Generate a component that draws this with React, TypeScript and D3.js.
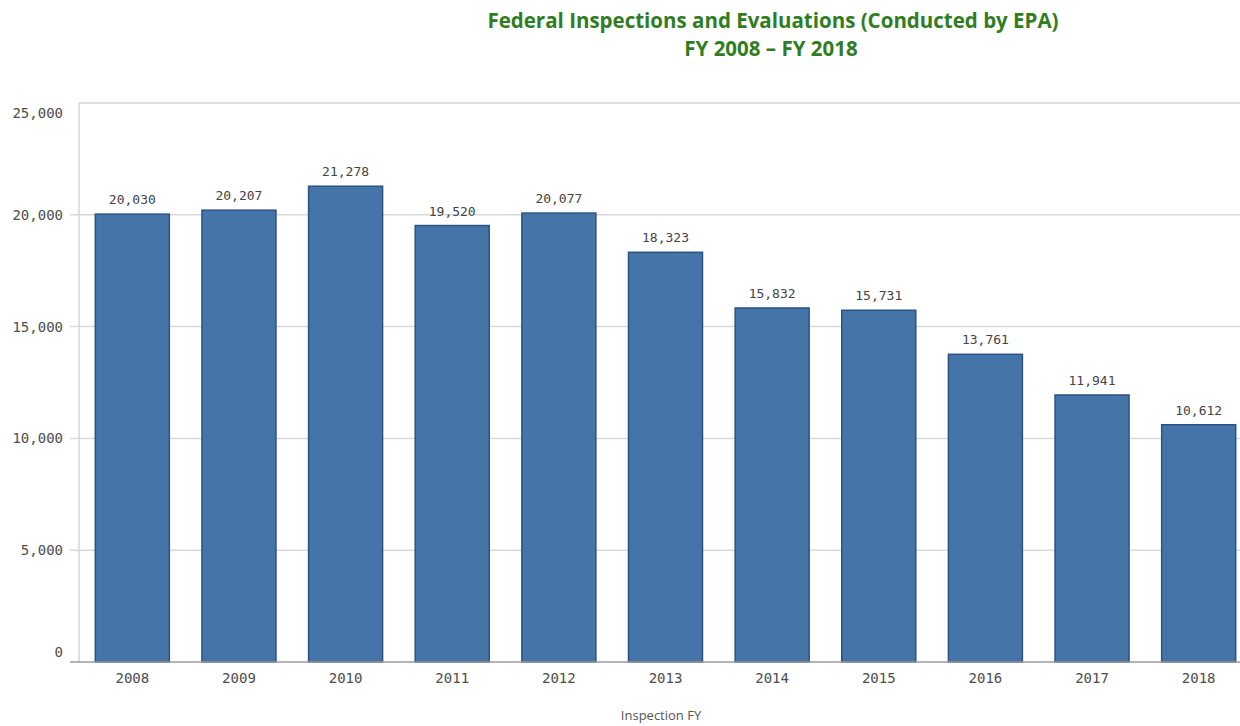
import React from "react";
import * as d3 from "d3";

const years = ["2008", "2009", "2010", "2011", "2012", "2013", "2014", "2015", "2016", "2017", "2018"];
const inspections = [20030, 20207, 21278, 19520, 20077, 18323, 15832, 15731, 13761, 11941, 10612];
const yTicks = [0, 5000, 10000, 15000, 20000, 25000];

const W = 1240;
const H = 726;
const left = 79;
const top = 103;
const bottom = 662;

export default function App() {
  const x = d3.scaleBand<string>().domain(years).range([left, 1252]).paddingInner(0.306).paddingOuter(0.153);
  const y = d3.scaleLinear().domain([0, 25000]).range([bottom, top]);
  const fmt = d3.format(",");
  const mono = "'DejaVu Sans Mono', monospace";

  // end labels sit inside the plot area
  const tickLabelY = (t: number) => (t === 0 ? y(t) - 10 : t === 25000 ? y(t) + 10 : y(t)) + 5;

  return (
    <svg width={W} height={H} style={{ position: "absolute", left: 0, top: 0, background: "#fff" }}>
      <rect width={W} height={H} fill="#fff" />
      <text x={773} y={28} textAnchor="middle" fontFamily="'Open Sans', sans-serif" fontWeight={700} fontSize={20.5} fill="#2f7d1f">
        Federal Inspections and Evaluations (Conducted by EPA)
      </text>
      <text x={771} y={56} textAnchor="middle" fontFamily="'Open Sans', sans-serif" fontWeight={700} fontSize={20.5} fill="#2f7d1f">
        FY 2008 – FY 2018
      </text>

      {/* plot frame */}
      <line x1={left} x2={W} y1={top} y2={top} stroke="#d6d6d6" strokeWidth={1.5} />
      <line x1={left} x2={left} y1={top} y2={bottom} stroke="#d6d6d6" strokeWidth={1.5} />

      {yTicks.map((t) => (
        <g key={t}>
          {t > 0 && t < 25000 && (
            <line x1={70} x2={W} y1={y(t)} y2={y(t)} stroke="#d9d9d9" strokeWidth={1.5} />
          )}
          <text x={63} y={tickLabelY(t)} textAnchor="end" fontFamily={mono} fontSize={14} fill="#4d4d4d">
            {fmt(t)}
          </text>
        </g>
      ))}

      {years.map((yr, i) => (
        <g key={yr}>
          <rect
            x={x(yr)}
            y={y(inspections[i])}
            width={x.bandwidth()}
            height={bottom - y(inspections[i])}
            fill="#4575a8"
            stroke="#2a5383"
            strokeWidth={1.5}
          />
          <text
            x={(x(yr) as number) + x.bandwidth() / 2}
            y={y(inspections[i]) - 10}
            textAnchor="middle"
            fontFamily={mono}
            fontSize={13}
            fill="#444"
          >
            {fmt(inspections[i])}
          </text>
          <text
            x={(x(yr) as number) + x.bandwidth() / 2}
            y={683}
            textAnchor="middle"
            fontFamily={mono}
            fontSize={14}
            fill="#4d4d4d"
          >
            {yr}
          </text>
        </g>
      ))}

      <line x1={70} x2={W} y1={bottom} y2={bottom} stroke="#9a9a9a" strokeWidth={1.5} />

      <text x={661} y={720} textAnchor="middle" fontFamily="'Open Sans', sans-serif" fontSize={13} fill="#555">
        Inspection FY
      </text>
    </svg>
  );
}
